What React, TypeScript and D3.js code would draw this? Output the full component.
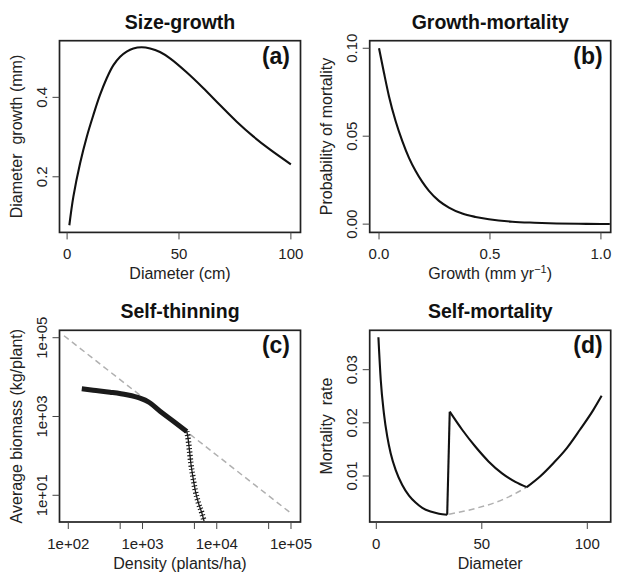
import * as d3 from "d3";

// (a) size-growth
const sizeDiam = [1, 2.8, 5.8, 8.8, 11.7, 14.7, 17.7, 20.7, 23.7, 26.6, 29.6, 33.3, 37.1, 41.5, 46.0, 53.4, 60.8, 68.3, 75.8, 83.2, 90.6, 100];
const sizeGrowth = [0.078, 0.15, 0.234, 0.301, 0.355, 0.406, 0.448, 0.481, 0.502, 0.515, 0.523, 0.526, 0.523, 0.514, 0.498, 0.463, 0.4235, 0.3806, 0.3386, 0.3016, 0.269, 0.2315];

// (b) growth-mortality
const growthRate = [0, 0.0225, 0.045, 0.075, 0.105, 0.135, 0.165, 0.195, 0.225, 0.27, 0.315, 0.375, 0.435, 0.495, 0.6, 0.7, 0.8, 0.9, 1.0, 1.04];
const growthMort = [0.1, 0.0859, 0.0726, 0.0585, 0.0472, 0.0377, 0.0302, 0.024, 0.0189, 0.0132, 0.0094, 0.006, 0.0041, 0.0028, 0.0014, 0.0008, 0.0004, 0.0002, 0.0001, 0.0001];

// (c) self-thinning, first 9 points form the dense band, rest the steep tail
const thinDensity = [152, 217, 365, 612, 925, 1197, 1722, 2600, 3945, 4064, 4276, 4467, 4753, 5105, 5649, 6281, 6745];
const thinBiomass = [5047, 4645, 4140, 3556, 2911, 2360, 1365, 760, 416, 316, 145, 66.8, 30.5, 14.0, 6.46, 3.6, 2.2];
const thinSplit = 8;
const limitDensity = [87.5, 1e5];
const limitBiomass = [1.12e5, 3.5];

// (d) self-mortality
const mortDiamA = [1, 2.1, 3.6, 5.2, 6.8, 9.2, 12.3, 15.5, 18.6, 21.8, 25.7, 29.7, 33.6];
const mortRateA = [0.0361, 0.0281, 0.0218, 0.0174, 0.0143, 0.0111, 0.0083, 0.0063, 0.005, 0.004, 0.0033, 0.0029, 0.0027];
const mortDiamB = [34.8, 40.7, 47.0, 53.3, 59.6, 65.9, 71.3];
const mortRateB = [0.0221, 0.0187, 0.0155, 0.0127, 0.0105, 0.0089, 0.0079];
const mortDiamC = [71.3, 77.6, 83.9, 90.2, 96.5, 102.8, 106.8];
const mortRateC = [0.0079, 0.0099, 0.0124, 0.0152, 0.0187, 0.0224, 0.0251];
const baseDiam = [34.5, 47, 59.6, 71.3];
const baseRate = [0.0028, 0.0039, 0.0055, 0.0079];

// tick labels
const ticksA = { x: [0, 50, 100], xl: ["0", "50", "100"], y: [0.2, 0.4], yl: ["0.2", "0.4"] };
const ticksB = { x: [0, 0.5, 1], xl: ["0.0", "0.5", "1.0"], y: [0, 0.05, 0.1], yl: ["0.00", "0.05", "0.10"] };
const ticksC = {
  x: [1e2, 5e2, 1e3, 5e3, 1e4, 5e4, 1e5],
  xl: ["1e+02", "", "1e+03", "", "1e+04", "", "1e+05"],
  y: [1e1, 1e3, 1e5],
  yl: ["1e+01", "1e+03", "1e+05"],
};
const ticksD = { x: [0, 50, 100], xl: ["0", "50", "100"], y: [0.01, 0.02, 0.03], yl: ["0.01", "0.02", "0.03"] };

const W = 241;
const H = 191.7;
const FONT = "'Liberation Sans', Arial, Helvetica, sans-serif";

const zip = (a, b) => a.map((v, i) => [v, b[i]]);

const Frame = ({ x0, y0, xs, ys, ticks, title, xTitle, yTitle, tag, inset, children }) => {
  return (
    <g transform={`translate(${x0},${y0})`}>
      <text x={W / 2} y={-12} textAnchor="middle" fontWeight="bold" fontSize={19.5} fill="#111">
        {title}
      </text>
      {children}
      <rect width={W} height={H} fill="none" stroke="#222" strokeWidth={1.7} />
      {ticks.x.map((t, i) => (
        <g key={"x" + i}>
          <line x1={xs(t)} x2={xs(t)} y1={H} y2={H + 7} stroke="#444" strokeWidth={1} />
          {ticks.xl[i] && (
            <text x={xs(t)} y={H + 27} textAnchor="middle" fontSize={15} fill="#222">
              {ticks.xl[i]}
            </text>
          )}
        </g>
      ))}
      {ticks.y.map((t, i) => (
        <g key={"y" + i}>
          <line x1={-7} x2={0} y1={ys(t)} y2={ys(t)} stroke="#444" strokeWidth={1} />
          <text
            transform={`translate(-13,${ys(t)}) rotate(-90)`}
            textAnchor="middle"
            fontSize={15}
            fill="#222"
          >
            {ticks.yl[i]}
          </text>
        </g>
      ))}
      <text x={W / 2} y={H + 47} textAnchor="middle" fontSize={16} fill="#222">
        {xTitle}
      </text>
      <text transform={`translate(-38,${H / 2}) rotate(-90)`} textAnchor="middle" fontSize={16} fill="#222">
        {yTitle}
      </text>
      <text x={W - inset} y={23} textAnchor="end" fontWeight="bold" fontSize={23} fill="#111">
        {tag}
      </text>
    </g>
  );
};

export default function App() {
  const left = [59.5, 369.7];
  const top = [40.7, 330.3];

  // (a)
  const xa = d3.scaleLinear().domain([-3.4, 104.3]).range([0, W]);
  const ya = d3.scaleLinear().domain([0.06, 0.5426]).range([H, 0]);
  const lineA = d3.line().x((d) => xa(d[0])).y((d) => ya(d[1])).curve(d3.curveCatmullRom.alpha(0.5));

  // (b)
  const xb = d3.scaleLinear().domain([-0.042, 1.044]).range([0, W]);
  const yb = d3.scaleLinear().domain([-0.0047, 0.1043]).range([H, 0]);
  const lineB = d3.line().x((d) => xb(d[0])).y((d) => yb(d[1])).curve(d3.curveMonotoneX);

  // (c)
  const xc = d3.scaleLog().domain([Math.pow(10, 1.8815), Math.pow(10, 5.128)]).range([0, W]);
  const yc = d3.scaleLog().domain([Math.pow(10, 0.322), Math.pow(10, 5.188)]).range([H, 0]);
  const lineC = d3.line().x((d) => xc(d[0])).y((d) => yc(d[1])).curve(d3.curveMonotoneX);
  const thinPts = zip(thinDensity, thinBiomass);
  const bandPts = thinPts.slice(0, thinSplit + 1);
  const tailPts = thinPts.slice(thinSplit);

  // (d)
  const xd = d3.scaleLinear().domain([-3.13, 111.09]).range([0, W]);
  const yd = d3.scaleLinear().domain([0.001345, 0.03741]).range([H, 0]);
  const lineD = d3.line().x((d) => xd(d[0])).y((d) => yd(d[1])).curve(d3.curveMonotoneX);
  const segA = zip(mortDiamA, mortRateA);
  const segB = zip(mortDiamB, mortRateB);
  const segC = zip(mortDiamC, mortRateC);
  const jump = [segA[segA.length - 1], segB[0]];

  return (
    <svg
      width={618}
      height={574}
      style={{ position: "absolute", left: 0, top: 0, background: "#fff" }}
      fontFamily={FONT}
    >
      <Frame
        x0={left[0]}
        y0={top[0]}
        xs={xa}
        ys={ya}
        ticks={ticksA}
        title="Size-growth"
        xTitle="Diameter (cm)"
        yTitle={"Diameter\u00a0 growth (mm)"}
        tag="(a)"
        inset={10.5}
      >
        <path d={lineA(zip(sizeDiam, sizeGrowth))} fill="none" stroke="#111" strokeWidth={2.1} />
      </Frame>

      <Frame
        x0={left[1]}
        y0={top[0]}
        xs={xb}
        ys={yb}
        ticks={ticksB}
        title="Growth-mortality"
        xTitle={
          <>
            Growth (mm yr
            <tspan fontSize={11} dy={-6}>
              {"\u22121"}
            </tspan>
            <tspan dy={6}>)</tspan>
          </>
        }
        yTitle="Probability of mortality"
        tag="(b)"
        inset={8}
      >
        <path d={lineB(zip(growthRate, growthMort))} fill="none" stroke="#111" strokeWidth={2.1} />
      </Frame>

      <Frame
        x0={left[0]}
        y0={top[1]}
        xs={xc}
        ys={yc}
        ticks={ticksC}
        title="Self-thinning"
        xTitle="Density (plants/ha)"
        yTitle="Average biomass (kg/plant)"
        tag="(c)"
        inset={10.5}
      >
        <path
          d={d3.line().x((d) => xc(d[0])).y((d) => yc(d[1]))(zip(limitDensity, limitBiomass))}
          fill="none"
          stroke="#b0b0b0"
          strokeWidth={1.5}
          strokeDasharray="6,4"
        />
        <path d={lineC(bandPts)} fill="none" stroke="#1a1a1a" strokeWidth={5} />
        <path d={lineC(tailPts)} fill="none" stroke="#1a1a1a" strokeWidth={5.5} strokeDasharray="1.1,2.3" />
        <path d={lineC(tailPts)} fill="none" stroke="#1a1a1a" strokeWidth={1.3} />
      </Frame>

      <Frame
        x0={left[1]}
        y0={top[1]}
        xs={xd}
        ys={yd}
        ticks={ticksD}
        title="Self-mortality"
        xTitle="Diameter"
        yTitle={"Mortality\u00a0 rate"}
        tag="(d)"
        inset={8}
      >
        <path
          d={lineD(zip(baseDiam, baseRate))}
          fill="none"
          stroke="#b0b0b0"
          strokeWidth={1.5}
          strokeDasharray="6,4"
        />
        <path d={lineD(segA)} fill="none" stroke="#111" strokeWidth={2.1} />
        <path d={d3.line().x((d) => xd(d[0])).y((d) => yd(d[1]))(jump)} fill="none" stroke="#111" strokeWidth={2.1} />
        <path d={lineD(segB)} fill="none" stroke="#111" strokeWidth={2.1} strokeLinejoin="round" />
        <path d={lineD(segC)} fill="none" stroke="#111" strokeWidth={2.1} />
      </Frame>
    </svg>
  );
}
